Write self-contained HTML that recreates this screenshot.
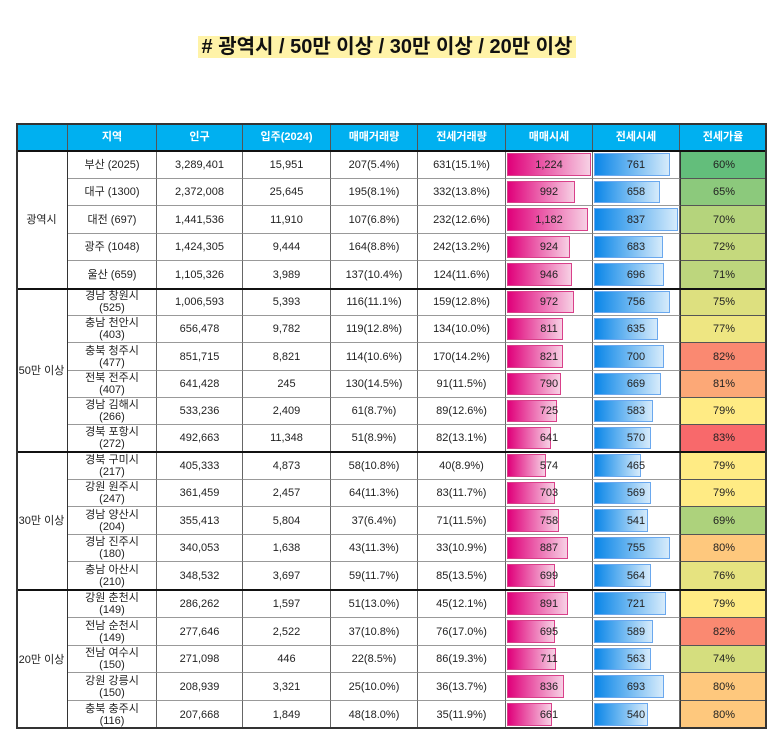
<!DOCTYPE html>
<html><head><meta charset="utf-8"><style>
body{margin:0;width:774px;height:739px;background:#fff;position:relative;overflow:hidden;font-family:"Liberation Sans","Noto Sans CJK KR",sans-serif;}
#title{position:absolute;left:0;width:774px;top:30px;text-align:center;font-size:20px;font-weight:bold;color:#111;}
#title span{background:#fff3a8;padding:0 4px;}
.c{position:absolute;box-sizing:border-box;display:flex;align-items:center;justify-content:center;text-align:center;font-size:11px;color:#222;line-height:12px;}
.h{background:#00b0f0;color:#fff;font-weight:bold;border-right:1px solid #555;}
.bar{position:absolute;box-sizing:border-box;}
</style></head><body>
<div id="title"><span># 광역시 / 50만 이상 / 30만 이상 / 20만 이상</span></div>
<div id="tbl"></div>
<script>
const headers=["","지역","인구","입주(2024)","매매거래량","전세거래량","매매시세","전세시세","전세가율"];
const groups=["광역시","50만 이상","30만 이상","20만 이상"];
const groupSizes=[5,6,5,5];
const regions=["부산 (2025)","대구 (1300)","대전 (697)","광주 (1048)","울산 (659)","경남 창원시|(525)","충남 천안시|(403)","충북 청주시|(477)","전북 전주시|(407)","경남 김해시|(266)","경북 포항시|(272)","경북 구미시|(217)","강원 원주시|(247)","경남 양산시|(204)","경남 진주시|(180)","충남 아산시|(210)","강원 춘천시|(149)","전남 순천시|(149)","전남 여수시|(150)","강원 강릉시|(150)","충북 충주시|(116)"];
const population=["3,289,401","2,372,008","1,441,536","1,424,305","1,105,326","1,006,593","656,478","851,715","641,428","533,236","492,663","405,333","361,459","355,413","340,053","348,532","286,262","277,646","271,098","208,939","207,668"];
const supply=["15,951","25,645","11,910","9,444","3,989","5,393","9,782","8,821","245","2,409","11,348","4,873","2,457","5,804","1,638","3,697","1,597","2,522","446","3,321","1,849"];
const saleVol=["207(5.4%)","195(8.1%)","107(6.8%)","164(8.8%)","137(10.4%)","116(11.1%)","119(12.8%)","114(10.6%)","130(14.5%)","61(8.7%)","51(8.9%)","58(10.8%)","64(11.3%)","37(6.4%)","43(11.3%)","59(11.7%)","51(13.0%)","37(10.8%)","22(8.5%)","25(10.0%)","48(18.0%)"];
const rentVol=["631(15.1%)","332(13.8%)","232(12.6%)","242(13.2%)","124(11.6%)","159(12.8%)","134(10.0%)","170(14.2%)","91(11.5%)","89(12.6%)","82(13.1%)","40(8.9%)","83(11.7%)","71(11.5%)","33(10.9%)","85(13.5%)","45(12.1%)","76(17.0%)","86(19.3%)","36(13.7%)","35(11.9%)"];
const salePrice=[1224,992,1182,924,946,972,811,821,790,725,641,574,703,758,887,699,891,695,711,836,661];
const rentPrice=[761,658,837,683,696,756,635,700,669,583,570,465,569,541,755,564,721,589,563,693,540];
const rentRatio=[60,65,70,72,71,75,77,82,81,79,83,79,79,69,80,76,79,82,74,80,80];

const cols=[16,68,157,243,331,418,506,593,680,767];
const groupTops=[151,289,452,590,729];
const T=document.getElementById('tbl');
function mk(x,y,w,h,cls,txt){const d=document.createElement('div');d.className='c '+cls;d.style.left=x+'px';d.style.top=y+'px';d.style.width=w+'px';d.style.height=h+'px';if(txt!==undefined)d.innerHTML=txt;T.appendChild(d);return d;}
function fmt(v){return v.toLocaleString('en-US');}
function heat(v){const stops=[[60,[99,190,123]],[70,[181,212,124]],[75,[221,224,127]],[79,[255,235,132]],[80,[254,200,125]],[83,[248,105,107]]];
 if(v<=stops[0][0])return stops[0][1];for(let i=1;i<stops.length;i++){if(v<=stops[i][0]){const a=stops[i-1],b=stops[i];const t=(v-a[0])/(b[0]-a[0]);return a[1].map((c,k)=>Math.round(c+(b[1][k]-c)*t));}}return stops[stops.length-1][1];}
const ob=mk(16,123,751,606,'');ob.style.border='2px solid #333';ob.style.zIndex=5;ob.style.pointerEvents='none';


headers.forEach((t,i)=>{const d=mk(cols[i],123,cols[i+1]-cols[i],28,'h',t);

});
const maxS=Math.max(...salePrice),maxR=Math.max(...rentPrice);
let r=0;
groups.forEach((g,gi)=>{
 const top=groupTops[gi],bot=groupTops[gi+1],n=groupSizes[gi],rh=(bot-top)/n;
 const gc=mk(16,top,52,bot-top,'',g);gc.style.borderRight='1px solid #333';
 
 
 const sep=mk(16,top-1,751,2,'');sep.style.background='#111';sep.style.zIndex=4;
 
 
 for(let k=0;k<n;k++,r++){
  const y=Math.round(top+k*rh),h=Math.round(top+(k+1)*rh)-y;
  const vals=[regions[r].replace('|','<br>'),population[r],supply[r],saleVol[r],rentVol[r]];
  vals.forEach((v,ci)=>{const d=mk(cols[ci+1],y,cols[ci+2]-cols[ci+1],h,'',v);
   d.style.borderRight='1px solid #666';d.style.borderBottom='1px solid #999';
   
   });
  const sc=mk(cols[6],y,cols[7]-cols[6],h,'');sc.style.borderRight='1px solid #666';sc.style.borderBottom='1px solid #999';
  
  
  const sb=document.createElement('div');sb.className='bar';
  
  
  const bw=(cols[7]-cols[6]-3)*salePrice[r]/maxS;
  Object.assign(sb.style,{left:'1px',top:'2px',width:bw+'px',height:(h-5)+'px',background:'linear-gradient(90deg,#e0007a,#f7d0e4)',border:'1px solid #d9408a'});
  sc.appendChild(sb);const st=document.createElement('span');st.style.position='relative';st.textContent=fmt(salePrice[r]);sc.appendChild(st);
  const rc=mk(cols[7],y,cols[8]-cols[7],h,'');rc.style.borderRight='1px solid #666';rc.style.borderBottom='1px solid #999';
  
  
  const rb=document.createElement('div');rb.className='bar';
  
  
  const rw=(cols[8]-cols[7]-3)*rentPrice[r]/maxR;
  Object.assign(rb.style,{left:'1px',top:'2px',width:rw+'px',height:(h-5)+'px',background:'linear-gradient(90deg,#0a86e8,#d6ebfb)',border:'1px solid #6aa8ee'});
  rc.appendChild(rb);const rt=document.createElement('span');rt.style.position='relative';rt.textContent=fmt(rentPrice[r]);rc.appendChild(rt);
  const c=heat(rentRatio[r]);
  const hc=mk(cols[8],y,cols[9]-cols[8],h,'',rentRatio[r]+'%');hc.style.background='rgb('+c.join(',')+')';hc.style.borderBottom='1px solid #555';hc.style.borderLeft='1px solid #333';
  
  
 }
});
</script>
</body></html>
